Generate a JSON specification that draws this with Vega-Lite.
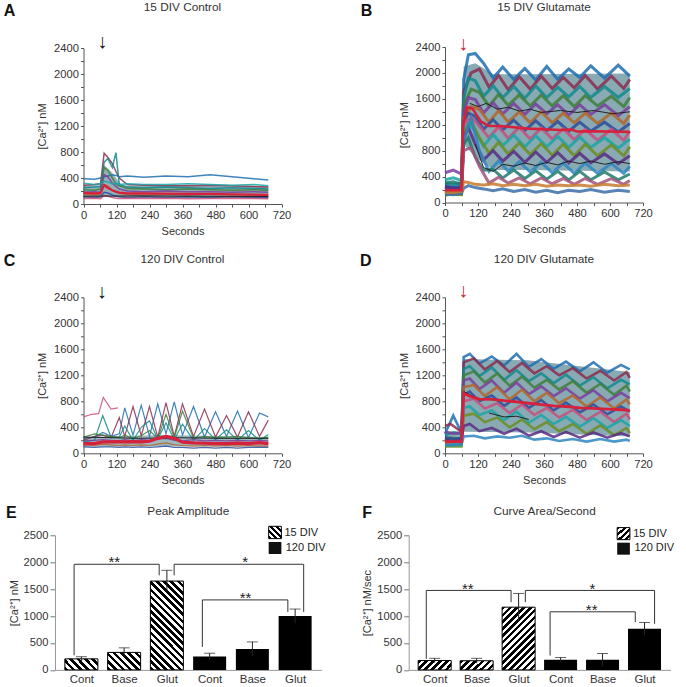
{"$schema":"https://vega.github.io/schema/vega-lite/v6.json","background":"white","padding":{"left":3,"top":2,"right":0,"bottom":0},"bounds":"flush","spacing":488.3,
"config":{"view":{"stroke":null},"range":{"category":["#1f6fb2","#8c2d4f","#0f8b8d","#3f7f3a","#7a3e9d","#b5652a","#2a4d9b","#c94f7c","#1aa6a6","#6b8e23","#5b2c83","#2e86c1","#1d7a6b","#a0527a","#3a6fa8","#c77a2e"]},"axis":{"grid":false,"labelFont":"Liberation Sans","titleFont":"Liberation Sans","labelFontSize":11.2,"titleFontSize":11,"titleFontWeight":"normal","labelColor":"#333","titleColor":"#333","tickColor":"#555","domainColor":"#555","tickSize":3,"labelPadding":2,"labelOverlap":false,"labelFlush":false},"title":{"font":"Liberation Sans","fontSize":11.8,"fontWeight":"normal","color":"#333"},"text":{"font":"Liberation Sans"}},
"datasets":{
"ab":[{"t":0,"v":100,"v2":290},{"t":60,"v":100,"v2":290},{"t":75,"v":110,"v2":600},{"t":100,"v":110,"v2":500},{"t":140,"v":100,"v2":285},{"t":400,"v":95,"v2":280},{"t":672,"v":90,"v2":270}],
"bb":[{"t":0,"v":120,"v2":300},{"t":60,"v":120,"v2":300},{"t":68,"v":900,"v2":2100},{"t":110,"v":700,"v2":2150},{"t":175,"v":500,"v2":1980},{"t":300,"v":500,"v2":1980},{"t":672,"v":480,"v2":1990}],
"cb":[{"t":0,"v":100,"v2":250},{"t":300,"v":110,"v2":280},{"t":672,"v":100,"v2":250}],
"db":[{"t":0,"v":110,"v2":340},{"t":60,"v":110,"v2":340},{"t":68,"v":330,"v2":1450},{"t":300,"v":320,"v2":1430},{"t":672,"v":260,"v2":1250}],
"a":[{"s":1,"t":0,"v":390},{"s":1,"t":40,"v":380},{"s":1,"t":62,"v":400},{"s":1,"t":75,"v":420},{"s":1,"t":88,"v":430},{"s":1,"t":105,"v":450},{"s":1,"t":118,"v":440},{"s":1,"t":130,"v":420},{"s":1,"t":160,"v":430},{"s":1,"t":220,"v":410},{"s":1,"t":300,"v":430},{"s":1,"t":380,"v":420},{"s":1,"t":460,"v":450},{"s":1,"t":540,"v":420},{"s":1,"t":620,"v":390},{"s":1,"t":672,"v":370},
{"s":2,"t":0,"v":290},{"s":2,"t":40,"v":300},{"s":2,"t":62,"v":310},{"s":2,"t":75,"v":780},{"s":2,"t":88,"v":720},{"s":2,"t":105,"v":620},{"s":2,"t":118,"v":500},{"s":2,"t":130,"v":400},{"s":2,"t":160,"v":300},{"s":2,"t":220,"v":290},{"s":2,"t":300,"v":280},{"s":2,"t":380,"v":280},{"s":2,"t":460,"v":290},{"s":2,"t":540,"v":280},{"s":2,"t":620,"v":270},{"s":2,"t":672,"v":260},
{"s":3,"t":0,"v":250},{"s":3,"t":40,"v":260},{"s":3,"t":62,"v":270},{"s":3,"t":75,"v":640},{"s":3,"t":88,"v":700},{"s":3,"t":105,"v":560},{"s":3,"t":118,"v":790},{"s":3,"t":130,"v":300},{"s":3,"t":160,"v":260},{"s":3,"t":220,"v":250},{"s":3,"t":300,"v":260},{"s":3,"t":380,"v":250},{"s":3,"t":460,"v":240},{"s":3,"t":540,"v":250},{"s":3,"t":620,"v":240},{"s":3,"t":672,"v":230},
{"s":4,"t":0,"v":220},{"s":4,"t":40,"v":210},{"s":4,"t":62,"v":230},{"s":4,"t":75,"v":560},{"s":4,"t":88,"v":520},{"s":4,"t":105,"v":400},{"s":4,"t":118,"v":310},{"s":4,"t":130,"v":280},{"s":4,"t":160,"v":240},{"s":4,"t":220,"v":230},{"s":4,"t":300,"v":220},{"s":4,"t":380,"v":230},{"s":4,"t":460,"v":220},{"s":4,"t":540,"v":210},{"s":4,"t":620,"v":220},{"s":4,"t":672,"v":210},
{"s":5,"t":0,"v":180},{"s":5,"t":40,"v":190},{"s":5,"t":62,"v":180},{"s":5,"t":75,"v":450},{"s":5,"t":88,"v":420},{"s":5,"t":105,"v":320},{"s":5,"t":118,"v":270},{"s":5,"t":130,"v":230},{"s":5,"t":160,"v":200},{"s":5,"t":220,"v":190},{"s":5,"t":300,"v":200},{"s":5,"t":380,"v":190},{"s":5,"t":460,"v":190},{"s":5,"t":540,"v":180},{"s":5,"t":620,"v":190},{"s":5,"t":672,"v":180},
{"s":6,"t":0,"v":150},{"s":6,"t":40,"v":140},{"s":6,"t":62,"v":150},{"s":6,"t":75,"v":300},{"s":6,"t":88,"v":280},{"s":6,"t":105,"v":210},{"s":6,"t":118,"v":180},{"s":6,"t":130,"v":160},{"s":6,"t":160,"v":150},{"s":6,"t":220,"v":140},{"s":6,"t":300,"v":150},{"s":6,"t":380,"v":140},{"s":6,"t":460,"v":150},{"s":6,"t":540,"v":140},{"s":6,"t":620,"v":140},{"s":6,"t":672,"v":130},
{"s":7,"t":0,"v":110},{"s":7,"t":40,"v":100},{"s":7,"t":62,"v":110},{"s":7,"t":75,"v":180},{"s":7,"t":88,"v":170},{"s":7,"t":105,"v":140},{"s":7,"t":118,"v":120},{"s":7,"t":130,"v":110},{"s":7,"t":160,"v":100},{"s":7,"t":220,"v":110},{"s":7,"t":300,"v":100},{"s":7,"t":380,"v":110},{"s":7,"t":460,"v":100},{"s":7,"t":540,"v":110},{"s":7,"t":620,"v":100},{"s":7,"t":672,"v":100},
{"s":8,"t":0,"v":85},{"s":8,"t":40,"v":90},{"s":8,"t":62,"v":80},{"s":8,"t":75,"v":130},{"s":8,"t":88,"v":120},{"s":8,"t":105,"v":100},{"s":8,"t":118,"v":90},{"s":8,"t":130,"v":85},{"s":8,"t":160,"v":90},{"s":8,"t":220,"v":85},{"s":8,"t":300,"v":90},{"s":8,"t":380,"v":80},{"s":8,"t":460,"v":85},{"s":8,"t":540,"v":90},{"s":8,"t":620,"v":85},{"s":8,"t":672,"v":80},
{"s":9,"t":0,"v":320},{"s":9,"t":40,"v":300},{"s":9,"t":62,"v":310},{"s":9,"t":75,"v":350},{"s":9,"t":88,"v":340},{"s":9,"t":105,"v":310},{"s":9,"t":118,"v":320},{"s":9,"t":130,"v":300},{"s":9,"t":160,"v":310},{"s":9,"t":220,"v":300},{"s":9,"t":300,"v":300},{"s":9,"t":380,"v":310},{"s":9,"t":460,"v":300},{"s":9,"t":540,"v":290},{"s":9,"t":620,"v":300},{"s":9,"t":672,"v":280},
{"s":98,"t":0,"v":120},{"s":98,"t":200,"v":125},{"s":98,"t":400,"v":120},{"s":98,"t":672,"v":115},
{"s":99,"t":0,"v":170},{"s":99,"t":40,"v":165},{"s":99,"t":62,"v":170},{"s":99,"t":75,"v":290},{"s":99,"t":88,"v":250},{"s":99,"t":105,"v":210},{"s":99,"t":118,"v":190},{"s":99,"t":130,"v":175},{"s":99,"t":160,"v":165},{"s":99,"t":220,"v":165},{"s":99,"t":300,"v":160},{"s":99,"t":380,"v":155},{"s":99,"t":460,"v":155},{"s":99,"t":540,"v":150},{"s":99,"t":620,"v":145},{"s":99,"t":672,"v":140}],
"b":[{"s":1,"t":0,"v":210},{"s":1,"t":30,"v":240},{"s":1,"t":60,"v":200},{"s":1,"t":68,"v":1900},{"s":1,"t":85,"v":2280},{"s":1,"t":110,"v":2300},{"s":1,"t":140,"v":2150},{"s":1,"t":175,"v":1920},{"s":1,"t":210,"v":2090},{"s":1,"t":250,"v":1900},{"s":1,"t":290,"v":2070},{"s":1,"t":330,"v":1890},{"s":1,"t":370,"v":2100},{"s":1,"t":410,"v":1900},{"s":1,"t":450,"v":2060},{"s":1,"t":490,"v":1930},{"s":1,"t":530,"v":2110},{"s":1,"t":580,"v":1920},{"s":1,"t":630,"v":2120},{"s":1,"t":672,"v":1950},
{"s":2,"t":0,"v":150},{"s":2,"t":25,"v":170},{"s":2,"t":60,"v":160},{"s":2,"t":68,"v":1700},{"s":2,"t":95,"v":2000},{"s":2,"t":125,"v":2060},{"s":2,"t":160,"v":1780},{"s":2,"t":195,"v":1960},{"s":2,"t":230,"v":1740},{"s":2,"t":270,"v":1940},{"s":2,"t":310,"v":1750},{"s":2,"t":350,"v":1950},{"s":2,"t":390,"v":1760},{"s":2,"t":430,"v":1930},{"s":2,"t":470,"v":1770},{"s":2,"t":510,"v":1960},{"s":2,"t":555,"v":1750},{"s":2,"t":605,"v":1950},{"s":2,"t":650,"v":1760},{"s":2,"t":672,"v":1900},
{"s":3,"t":0,"v":300},{"s":3,"t":30,"v":280},{"s":3,"t":60,"v":310},{"s":3,"t":68,"v":1600},{"s":3,"t":85,"v":1920},{"s":3,"t":110,"v":1880},{"s":3,"t":140,"v":1640},{"s":3,"t":175,"v":1800},{"s":3,"t":210,"v":1620},{"s":3,"t":250,"v":1790},{"s":3,"t":290,"v":1610},{"s":3,"t":330,"v":1800},{"s":3,"t":370,"v":1620},{"s":3,"t":410,"v":1780},{"s":3,"t":450,"v":1630},{"s":3,"t":490,"v":1790},{"s":3,"t":530,"v":1620},{"s":3,"t":580,"v":1790},{"s":3,"t":630,"v":1620},{"s":3,"t":672,"v":1760},
{"s":4,"t":0,"v":120},{"s":4,"t":25,"v":140},{"s":4,"t":60,"v":130},{"s":4,"t":68,"v":1500},{"s":4,"t":95,"v":1750},{"s":4,"t":125,"v":1700},{"s":4,"t":160,"v":1490},{"s":4,"t":195,"v":1670},{"s":4,"t":230,"v":1500},{"s":4,"t":270,"v":1660},{"s":4,"t":310,"v":1490},{"s":4,"t":350,"v":1660},{"s":4,"t":390,"v":1490},{"s":4,"t":430,"v":1650},{"s":4,"t":470,"v":1480},{"s":4,"t":510,"v":1650},{"s":4,"t":555,"v":1490},{"s":4,"t":605,"v":1640},{"s":4,"t":650,"v":1480},{"s":4,"t":672,"v":1620},
{"s":5,"t":0,"v":460},{"s":5,"t":30,"v":500},{"s":5,"t":60,"v":440},{"s":5,"t":68,"v":1400},{"s":5,"t":85,"v":1620},{"s":5,"t":110,"v":1590},{"s":5,"t":140,"v":1380},{"s":5,"t":175,"v":1540},{"s":5,"t":210,"v":1370},{"s":5,"t":250,"v":1530},{"s":5,"t":290,"v":1360},{"s":5,"t":330,"v":1520},{"s":5,"t":370,"v":1370},{"s":5,"t":410,"v":1510},{"s":5,"t":450,"v":1350},{"s":5,"t":490,"v":1510},{"s":5,"t":530,"v":1360},{"s":5,"t":580,"v":1510},{"s":5,"t":630,"v":1340},{"s":5,"t":672,"v":1480},
{"s":6,"t":0,"v":200},{"s":6,"t":25,"v":220},{"s":6,"t":60,"v":190},{"s":6,"t":68,"v":1300},{"s":6,"t":95,"v":1480},{"s":6,"t":125,"v":1440},{"s":6,"t":160,"v":1240},{"s":6,"t":195,"v":1420},{"s":6,"t":230,"v":1240},{"s":6,"t":270,"v":1400},{"s":6,"t":310,"v":1230},{"s":6,"t":350,"v":1400},{"s":6,"t":390,"v":1230},{"s":6,"t":430,"v":1380},{"s":6,"t":470,"v":1230},{"s":6,"t":510,"v":1380},{"s":6,"t":555,"v":1220},{"s":6,"t":605,"v":1380},{"s":6,"t":650,"v":1220},{"s":6,"t":672,"v":1350},
{"s":7,"t":0,"v":260},{"s":7,"t":30,"v":230},{"s":7,"t":60,"v":250},{"s":7,"t":68,"v":1250},{"s":7,"t":85,"v":1380},{"s":7,"t":110,"v":1330},{"s":7,"t":140,"v":1130},{"s":7,"t":175,"v":1280},{"s":7,"t":210,"v":1120},{"s":7,"t":250,"v":1270},{"s":7,"t":290,"v":1110},{"s":7,"t":330,"v":1260},{"s":7,"t":370,"v":1110},{"s":7,"t":410,"v":1250},{"s":7,"t":450,"v":1100},{"s":7,"t":490,"v":1240},{"s":7,"t":530,"v":1100},{"s":7,"t":580,"v":1240},{"s":7,"t":630,"v":1090},{"s":7,"t":672,"v":1220},
{"s":8,"t":0,"v":180},{"s":8,"t":25,"v":160},{"s":8,"t":60,"v":190},{"s":8,"t":68,"v":1200},{"s":8,"t":95,"v":1320},{"s":8,"t":125,"v":1180},{"s":8,"t":160,"v":1000},{"s":8,"t":195,"v":1170},{"s":8,"t":230,"v":990},{"s":8,"t":270,"v":1160},{"s":8,"t":310,"v":980},{"s":8,"t":350,"v":1150},{"s":8,"t":390,"v":980},{"s":8,"t":430,"v":1140},{"s":8,"t":470,"v":970},{"s":8,"t":510,"v":1130},{"s":8,"t":555,"v":960},{"s":8,"t":605,"v":1130},{"s":8,"t":650,"v":960},{"s":8,"t":672,"v":1100},
{"s":9,"t":0,"v":350},{"s":9,"t":30,"v":380},{"s":9,"t":60,"v":340},{"s":9,"t":68,"v":1100},{"s":9,"t":85,"v":1220},{"s":9,"t":110,"v":1100},{"s":9,"t":140,"v":870},{"s":9,"t":175,"v":1050},{"s":9,"t":210,"v":880},{"s":9,"t":250,"v":1040},{"s":9,"t":290,"v":860},{"s":9,"t":330,"v":1030},{"s":9,"t":370,"v":860},{"s":9,"t":410,"v":1020},{"s":9,"t":450,"v":850},{"s":9,"t":490,"v":1010},{"s":9,"t":530,"v":850},{"s":9,"t":580,"v":1000},{"s":9,"t":630,"v":840},{"s":9,"t":672,"v":980},
{"s":10,"t":0,"v":110},{"s":10,"t":25,"v":130},{"s":10,"t":60,"v":120},{"s":10,"t":68,"v":1050},{"s":10,"t":95,"v":1250},{"s":10,"t":125,"v":1000},{"s":10,"t":160,"v":760},{"s":10,"t":195,"v":930},{"s":10,"t":230,"v":750},{"s":10,"t":270,"v":920},{"s":10,"t":310,"v":740},{"s":10,"t":350,"v":910},{"s":10,"t":390,"v":730},{"s":10,"t":430,"v":900},{"s":10,"t":470,"v":720},{"s":10,"t":510,"v":900},{"s":10,"t":555,"v":720},{"s":10,"t":605,"v":890},{"s":10,"t":650,"v":720},{"s":10,"t":672,"v":860},
{"s":11,"t":0,"v":240},{"s":11,"t":30,"v":210},{"s":11,"t":60,"v":230},{"s":11,"t":68,"v":1000},{"s":11,"t":85,"v":1150},{"s":11,"t":110,"v":900},{"s":11,"t":140,"v":660},{"s":11,"t":175,"v":800},{"s":11,"t":210,"v":640},{"s":11,"t":250,"v":790},{"s":11,"t":290,"v":620},{"s":11,"t":330,"v":780},{"s":11,"t":370,"v":620},{"s":11,"t":410,"v":770},{"s":11,"t":450,"v":610},{"s":11,"t":490,"v":760},{"s":11,"t":530,"v":610},{"s":11,"t":580,"v":750},{"s":11,"t":630,"v":600},{"s":11,"t":672,"v":720},
{"s":12,"t":0,"v":140},{"s":12,"t":25,"v":160},{"s":12,"t":60,"v":150},{"s":12,"t":68,"v":950},{"s":12,"t":95,"v":1300},{"s":12,"t":125,"v":800},{"s":12,"t":160,"v":480},{"s":12,"t":195,"v":640},{"s":12,"t":230,"v":480},{"s":12,"t":270,"v":630},{"s":12,"t":310,"v":470},{"s":12,"t":350,"v":620},{"s":12,"t":390,"v":460},{"s":12,"t":430,"v":610},{"s":12,"t":470,"v":450},{"s":12,"t":510,"v":610},{"s":12,"t":555,"v":450},{"s":12,"t":605,"v":600},{"s":12,"t":650,"v":450},{"s":12,"t":672,"v":560},
{"s":13,"t":0,"v":300},{"s":13,"t":30,"v":320},{"s":13,"t":60,"v":280},{"s":13,"t":68,"v":900},{"s":13,"t":85,"v":1000},{"s":13,"t":110,"v":700},{"s":13,"t":140,"v":500},{"s":13,"t":175,"v":510},{"s":13,"t":210,"v":380},{"s":13,"t":250,"v":500},{"s":13,"t":290,"v":370},{"s":13,"t":330,"v":490},{"s":13,"t":370,"v":360},{"s":13,"t":410,"v":480},{"s":13,"t":450,"v":350},{"s":13,"t":490,"v":480},{"s":13,"t":530,"v":350},{"s":13,"t":580,"v":470},{"s":13,"t":630,"v":350},{"s":13,"t":672,"v":440},
{"s":14,"t":0,"v":170},{"s":14,"t":25,"v":190},{"s":14,"t":60,"v":180},{"s":14,"t":68,"v":800},{"s":14,"t":95,"v":850},{"s":14,"t":125,"v":560},{"s":14,"t":160,"v":300},{"s":14,"t":195,"v":390},{"s":14,"t":230,"v":300},{"s":14,"t":270,"v":380},{"s":14,"t":310,"v":290},{"s":14,"t":350,"v":380},{"s":14,"t":390,"v":290},{"s":14,"t":430,"v":370},{"s":14,"t":470,"v":280},{"s":14,"t":510,"v":370},{"s":14,"t":555,"v":280},{"s":14,"t":605,"v":370},{"s":14,"t":650,"v":280},{"s":14,"t":672,"v":340},
{"s":15,"t":0,"v":130},{"s":15,"t":30,"v":120},{"s":15,"t":60,"v":140},{"s":15,"t":68,"v":220},{"s":15,"t":85,"v":260},{"s":15,"t":110,"v":230},{"s":15,"t":140,"v":210},{"s":15,"t":175,"v":180},{"s":15,"t":210,"v":210},{"s":15,"t":250,"v":170},{"s":15,"t":290,"v":200},{"s":15,"t":330,"v":160},{"s":15,"t":370,"v":190},{"s":15,"t":410,"v":150},{"s":15,"t":450,"v":190},{"s":15,"t":490,"v":170},{"s":15,"t":530,"v":200},{"s":15,"t":580,"v":160},{"s":15,"t":630,"v":190},{"s":15,"t":672,"v":170},
{"s":16,"t":0,"v":160},{"s":16,"t":30,"v":150},{"s":16,"t":60,"v":170},{"s":16,"t":68,"v":320},{"s":16,"t":85,"v":310},{"s":16,"t":110,"v":280},{"s":16,"t":140,"v":270},{"s":16,"t":175,"v":290},{"s":16,"t":210,"v":260},{"s":16,"t":250,"v":280},{"s":16,"t":290,"v":260},{"s":16,"t":330,"v":280},{"s":16,"t":370,"v":250},{"s":16,"t":410,"v":270},{"s":16,"t":450,"v":260},{"s":16,"t":490,"v":270},{"s":16,"t":530,"v":250},{"s":16,"t":580,"v":280},{"s":16,"t":630,"v":260},{"s":16,"t":672,"v":270},
{"s":97,"t":90,"v":1530},{"s":97,"t":120,"v":1480},{"s":97,"t":150,"v":1530},{"s":97,"t":190,"v":1440},{"s":97,"t":230,"v":1470},{"s":97,"t":270,"v":1410},{"s":97,"t":310,"v":1440},{"s":97,"t":350,"v":1390},{"s":97,"t":420,"v":1420},{"s":97,"t":480,"v":1390},{"s":97,"t":540,"v":1420},{"s":97,"t":610,"v":1370},{"s":97,"t":672,"v":1400},
{"s":98,"t":110,"v":900},{"s":98,"t":140,"v":540},{"s":98,"t":175,"v":480},{"s":98,"t":210,"v":590},{"s":98,"t":250,"v":560},{"s":98,"t":290,"v":610},{"s":98,"t":330,"v":570},{"s":98,"t":370,"v":620},{"s":98,"t":410,"v":580},{"s":98,"t":450,"v":640},{"s":98,"t":490,"v":600},{"s":98,"t":530,"v":640},{"s":98,"t":580,"v":590},{"s":98,"t":630,"v":630},{"s":98,"t":672,"v":600},
{"s":99,"t":0,"v":190},{"s":99,"t":60,"v":190},{"s":99,"t":66,"v":1200},{"s":99,"t":80,"v":1470},{"s":99,"t":100,"v":1450},{"s":99,"t":130,"v":1250},{"s":99,"t":160,"v":1180},{"s":99,"t":200,"v":1180},{"s":99,"t":240,"v":1165},{"s":99,"t":300,"v":1140},{"s":99,"t":360,"v":1130},{"s":99,"t":420,"v":1120},{"s":99,"t":460,"v":1125},{"s":99,"t":480,"v":1095},{"s":99,"t":540,"v":1100},{"s":99,"t":600,"v":1095},{"s":99,"t":672,"v":1090}],
"c":[{"s":1,"t":0,"v":230},{"s":1,"t":40,"v":250},{"s":1,"t":70,"v":320},{"s":1,"t":100,"v":260},{"s":1,"t":130,"v":300},{"s":1,"t":150,"v":700},{"s":1,"t":180,"v":280},{"s":1,"t":210,"v":740},{"s":1,"t":240,"v":260},{"s":1,"t":270,"v":760},{"s":1,"t":300,"v":300},{"s":1,"t":330,"v":790},{"s":1,"t":360,"v":280},{"s":1,"t":400,"v":720},{"s":1,"t":440,"v":250},{"s":1,"t":480,"v":640},{"s":1,"t":520,"v":260},{"s":1,"t":560,"v":650},{"s":1,"t":600,"v":240},{"s":1,"t":640,"v":620},{"s":1,"t":672,"v":560},
{"s":2,"t":0,"v":200},{"s":2,"t":40,"v":260},{"s":2,"t":70,"v":280},{"s":2,"t":100,"v":240},{"s":2,"t":130,"v":550},{"s":2,"t":150,"v":260},{"s":2,"t":180,"v":720},{"s":2,"t":210,"v":270},{"s":2,"t":240,"v":720},{"s":2,"t":270,"v":250},{"s":2,"t":300,"v":780},{"s":2,"t":330,"v":260},{"s":2,"t":360,"v":760},{"s":2,"t":400,"v":260},{"s":2,"t":440,"v":680},{"s":2,"t":480,"v":250},{"s":2,"t":520,"v":580},{"s":2,"t":560,"v":250},{"s":2,"t":600,"v":640},{"s":2,"t":640,"v":260},{"s":2,"t":672,"v":510},
{"s":3,"t":0,"v":180},{"s":3,"t":40,"v":200},{"s":3,"t":70,"v":580},{"s":3,"t":100,"v":250},{"s":3,"t":130,"v":250},{"s":3,"t":150,"v":420},{"s":3,"t":180,"v":200},{"s":3,"t":210,"v":400},{"s":3,"t":240,"v":500},{"s":3,"t":270,"v":220},{"s":3,"t":300,"v":470},{"s":3,"t":330,"v":210},{"s":3,"t":360,"v":450},{"s":3,"t":400,"v":200},{"s":3,"t":440,"v":380},{"s":3,"t":480,"v":210},{"s":3,"t":520,"v":360},{"s":3,"t":560,"v":200},{"s":3,"t":600,"v":350},{"s":3,"t":640,"v":200},{"s":3,"t":672,"v":290},
{"s":4,"t":0,"v":250},{"s":4,"t":40,"v":300},{"s":4,"t":70,"v":280},{"s":4,"t":100,"v":260},{"s":4,"t":130,"v":240},{"s":4,"t":150,"v":280},{"s":4,"t":180,"v":230},{"s":4,"t":210,"v":270},{"s":4,"t":240,"v":350},{"s":4,"t":270,"v":230},{"s":4,"t":300,"v":600},{"s":4,"t":330,"v":240},{"s":4,"t":360,"v":650},{"s":4,"t":400,"v":230},{"s":4,"t":440,"v":260},{"s":4,"t":480,"v":240},{"s":4,"t":520,"v":250},{"s":4,"t":560,"v":260},{"s":4,"t":600,"v":240},{"s":4,"t":640,"v":230},{"s":4,"t":672,"v":250},
{"s":5,"t":0,"v":190},{"s":5,"t":40,"v":200},{"s":5,"t":70,"v":210},{"s":5,"t":100,"v":200},{"s":5,"t":130,"v":190},{"s":5,"t":150,"v":210},{"s":5,"t":180,"v":190},{"s":5,"t":210,"v":210},{"s":5,"t":240,"v":200},{"s":5,"t":270,"v":220},{"s":5,"t":300,"v":230},{"s":5,"t":330,"v":200},{"s":5,"t":360,"v":190},{"s":5,"t":400,"v":210},{"s":5,"t":440,"v":190},{"s":5,"t":480,"v":200},{"s":5,"t":520,"v":190},{"s":5,"t":560,"v":200},{"s":5,"t":600,"v":190},{"s":5,"t":640,"v":200},{"s":5,"t":672,"v":190},
{"s":6,"t":0,"v":130},{"s":6,"t":40,"v":120},{"s":6,"t":70,"v":140},{"s":6,"t":100,"v":130},{"s":6,"t":130,"v":120},{"s":6,"t":150,"v":130},{"s":6,"t":180,"v":120},{"s":6,"t":210,"v":130},{"s":6,"t":240,"v":120},{"s":6,"t":270,"v":140},{"s":6,"t":300,"v":160},{"s":6,"t":330,"v":130},{"s":6,"t":360,"v":120},{"s":6,"t":400,"v":110},{"s":6,"t":440,"v":120},{"s":6,"t":480,"v":110},{"s":6,"t":520,"v":120},{"s":6,"t":560,"v":110},{"s":6,"t":600,"v":120},{"s":6,"t":640,"v":110},{"s":6,"t":672,"v":110},
{"s":7,"t":0,"v":100},{"s":7,"t":40,"v":90},{"s":7,"t":70,"v":100},{"s":7,"t":100,"v":100},{"s":7,"t":130,"v":90},{"s":7,"t":150,"v":100},{"s":7,"t":180,"v":90},{"s":7,"t":210,"v":100},{"s":7,"t":240,"v":90},{"s":7,"t":270,"v":100},{"s":7,"t":300,"v":110},{"s":7,"t":330,"v":90},{"s":7,"t":360,"v":90},{"s":7,"t":400,"v":80},{"s":7,"t":440,"v":90},{"s":7,"t":480,"v":80},{"s":7,"t":520,"v":90},{"s":7,"t":560,"v":80},{"s":7,"t":600,"v":90},{"s":7,"t":640,"v":90},{"s":7,"t":672,"v":90},
{"s":8,"t":0,"v":560},{"s":8,"t":30,"v":600},{"s":8,"t":55,"v":610},{"s":8,"t":72,"v":860},{"s":8,"t":100,"v":680},{"s":8,"t":125,"v":700},
{"s":98,"t":0,"v":250},{"s":98,"t":100,"v":240},{"s":98,"t":200,"v":230},{"s":98,"t":350,"v":240},{"s":98,"t":500,"v":230},{"s":98,"t":672,"v":230},
{"s":99,"t":0,"v":150},{"s":99,"t":40,"v":150},{"s":99,"t":70,"v":175},{"s":99,"t":100,"v":175},{"s":99,"t":130,"v":180},{"s":99,"t":150,"v":175},{"s":99,"t":180,"v":180},{"s":99,"t":210,"v":175},{"s":99,"t":240,"v":185},{"s":99,"t":270,"v":230},{"s":99,"t":300,"v":260},{"s":99,"t":330,"v":230},{"s":99,"t":360,"v":170},{"s":99,"t":400,"v":160},{"s":99,"t":440,"v":155},{"s":99,"t":480,"v":150},{"s":99,"t":520,"v":150},{"s":99,"t":560,"v":155},{"s":99,"t":600,"v":150},{"s":99,"t":640,"v":165},{"s":99,"t":672,"v":150}],
"d":[{"s":1,"t":0,"v":300},{"s":1,"t":30,"v":580},{"s":1,"t":60,"v":320},{"s":1,"t":68,"v":1480},{"s":1,"t":90,"v":1530},{"s":1,"t":125,"v":1380},{"s":1,"t":170,"v":1490},{"s":1,"t":215,"v":1350},{"s":1,"t":260,"v":1530},{"s":1,"t":305,"v":1330},{"s":1,"t":350,"v":1450},{"s":1,"t":395,"v":1300},{"s":1,"t":440,"v":1410},{"s":1,"t":490,"v":1260},{"s":1,"t":540,"v":1400},{"s":1,"t":590,"v":1240},{"s":1,"t":640,"v":1360},{"s":1,"t":672,"v":1290},
{"s":2,"t":0,"v":420},{"s":2,"t":20,"v":450},{"s":2,"t":60,"v":330},{"s":2,"t":68,"v":1400},{"s":2,"t":105,"v":1460},{"s":2,"t":145,"v":1290},{"s":2,"t":190,"v":1420},{"s":2,"t":235,"v":1250},{"s":2,"t":280,"v":1390},{"s":2,"t":325,"v":1230},{"s":2,"t":370,"v":1340},{"s":2,"t":415,"v":1200},{"s":2,"t":465,"v":1310},{"s":2,"t":515,"v":1150},{"s":2,"t":565,"v":1270},{"s":2,"t":615,"v":1120},{"s":2,"t":660,"v":1250},{"s":2,"t":672,"v":1160},
{"s":3,"t":0,"v":280},{"s":3,"t":30,"v":320},{"s":3,"t":60,"v":300},{"s":3,"t":68,"v":1300},{"s":3,"t":90,"v":1340},{"s":3,"t":125,"v":1190},{"s":3,"t":170,"v":1320},{"s":3,"t":215,"v":1130},{"s":3,"t":260,"v":1280},{"s":3,"t":305,"v":1110},{"s":3,"t":350,"v":1230},{"s":3,"t":395,"v":1080},{"s":3,"t":440,"v":1210},{"s":3,"t":490,"v":1040},{"s":3,"t":540,"v":1170},{"s":3,"t":590,"v":1000},{"s":3,"t":640,"v":1130},{"s":3,"t":672,"v":1060},
{"s":4,"t":0,"v":200},{"s":4,"t":20,"v":240},{"s":4,"t":60,"v":220},{"s":4,"t":68,"v":1200},{"s":4,"t":105,"v":1260},{"s":4,"t":145,"v":1090},{"s":4,"t":190,"v":1230},{"s":4,"t":235,"v":1040},{"s":4,"t":280,"v":1180},{"s":4,"t":325,"v":1010},{"s":4,"t":370,"v":1130},{"s":4,"t":415,"v":980},{"s":4,"t":465,"v":1110},{"s":4,"t":515,"v":930},{"s":4,"t":565,"v":1070},{"s":4,"t":615,"v":900},{"s":4,"t":660,"v":1040},{"s":4,"t":672,"v":950},
{"s":5,"t":0,"v":330},{"s":5,"t":30,"v":300},{"s":5,"t":60,"v":310},{"s":5,"t":68,"v":1120},{"s":5,"t":90,"v":1150},{"s":5,"t":125,"v":990},{"s":5,"t":170,"v":1120},{"s":5,"t":215,"v":930},{"s":5,"t":260,"v":1090},{"s":5,"t":305,"v":910},{"s":5,"t":350,"v":1030},{"s":5,"t":395,"v":880},{"s":5,"t":440,"v":1000},{"s":5,"t":490,"v":840},{"s":5,"t":540,"v":970},{"s":5,"t":590,"v":800},{"s":5,"t":640,"v":930},{"s":5,"t":672,"v":850},
{"s":6,"t":0,"v":150},{"s":6,"t":20,"v":170},{"s":6,"t":60,"v":160},{"s":6,"t":68,"v":1020},{"s":6,"t":105,"v":1050},{"s":6,"t":145,"v":880},{"s":6,"t":190,"v":1020},{"s":6,"t":235,"v":830},{"s":6,"t":280,"v":980},{"s":6,"t":325,"v":800},{"s":6,"t":370,"v":930},{"s":6,"t":415,"v":770},{"s":6,"t":465,"v":890},{"s":6,"t":515,"v":720},{"s":6,"t":565,"v":860},{"s":6,"t":615,"v":690},{"s":6,"t":660,"v":830},{"s":6,"t":672,"v":750},
{"s":7,"t":0,"v":250},{"s":7,"t":30,"v":220},{"s":7,"t":60,"v":240},{"s":7,"t":68,"v":900},{"s":7,"t":90,"v":950},{"s":7,"t":125,"v":800},{"s":7,"t":170,"v":890},{"s":7,"t":215,"v":730},{"s":7,"t":260,"v":860},{"s":7,"t":305,"v":700},{"s":7,"t":350,"v":820},{"s":7,"t":395,"v":660},{"s":7,"t":440,"v":780},{"s":7,"t":490,"v":630},{"s":7,"t":540,"v":750},{"s":7,"t":590,"v":600},{"s":7,"t":640,"v":720},{"s":7,"t":672,"v":640},
{"s":8,"t":0,"v":180},{"s":8,"t":20,"v":160},{"s":8,"t":60,"v":170},{"s":8,"t":68,"v":800},{"s":8,"t":105,"v":840},{"s":8,"t":145,"v":690},{"s":8,"t":190,"v":770},{"s":8,"t":235,"v":620},{"s":8,"t":280,"v":750},{"s":8,"t":325,"v":590},{"s":8,"t":370,"v":700},{"s":8,"t":415,"v":550},{"s":8,"t":465,"v":670},{"s":8,"t":515,"v":510},{"s":8,"t":565,"v":640},{"s":8,"t":615,"v":480},{"s":8,"t":660,"v":610},{"s":8,"t":672,"v":520},
{"s":9,"t":0,"v":120},{"s":9,"t":30,"v":140},{"s":9,"t":60,"v":130},{"s":9,"t":68,"v":700},{"s":9,"t":90,"v":720},{"s":9,"t":125,"v":590},{"s":9,"t":170,"v":660},{"s":9,"t":215,"v":510},{"s":9,"t":260,"v":640},{"s":9,"t":305,"v":470},{"s":9,"t":350,"v":590},{"s":9,"t":395,"v":450},{"s":9,"t":440,"v":560},{"s":9,"t":490,"v":410},{"s":9,"t":540,"v":540},{"s":9,"t":590,"v":390},{"s":9,"t":640,"v":510},{"s":9,"t":672,"v":420},
{"s":10,"t":0,"v":100},{"s":10,"t":20,"v":110},{"s":10,"t":60,"v":105},{"s":10,"t":68,"v":580},{"s":10,"t":105,"v":610},{"s":10,"t":145,"v":480},{"s":10,"t":190,"v":550},{"s":10,"t":235,"v":400},{"s":10,"t":280,"v":520},{"s":10,"t":325,"v":370},{"s":10,"t":370,"v":480},{"s":10,"t":415,"v":340},{"s":10,"t":465,"v":450},{"s":10,"t":515,"v":300},{"s":10,"t":565,"v":430},{"s":10,"t":615,"v":280},{"s":10,"t":660,"v":390},{"s":10,"t":672,"v":310},
{"s":11,"t":0,"v":210},{"s":11,"t":30,"v":190},{"s":11,"t":60,"v":200},{"s":11,"t":68,"v":420},{"s":11,"t":90,"v":450},{"s":11,"t":125,"v":340},{"s":11,"t":170,"v":390},{"s":11,"t":215,"v":300},{"s":11,"t":260,"v":380},{"s":11,"t":305,"v":270},{"s":11,"t":350,"v":340},{"s":11,"t":395,"v":250},{"s":11,"t":440,"v":330},{"s":11,"t":490,"v":240},{"s":11,"t":540,"v":320},{"s":11,"t":590,"v":240},{"s":11,"t":640,"v":310},{"s":11,"t":672,"v":260},
{"s":12,"t":0,"v":130},{"s":12,"t":20,"v":120},{"s":12,"t":60,"v":130},{"s":12,"t":68,"v":260},{"s":12,"t":105,"v":270},{"s":12,"t":145,"v":230},{"s":12,"t":190,"v":260},{"s":12,"t":235,"v":240},{"s":12,"t":280,"v":270},{"s":12,"t":325,"v":210},{"s":12,"t":370,"v":230},{"s":12,"t":415,"v":190},{"s":12,"t":465,"v":220},{"s":12,"t":515,"v":180},{"s":12,"t":565,"v":220},{"s":12,"t":615,"v":180},{"s":12,"t":660,"v":210},{"s":12,"t":672,"v":190},
{"s":97,"t":160,"v":620},{"s":97,"t":215,"v":560},{"s":97,"t":260,"v":570},{"s":97,"t":305,"v":520},
{"s":98,"t":68,"v":950},{"s":98,"t":100,"v":880},{"s":98,"t":130,"v":830},{"s":98,"t":170,"v":840},{"s":98,"t":215,"v":810},{"s":98,"t":260,"v":800},
{"s":99,"t":0,"v":185},{"s":99,"t":30,"v":180},{"s":99,"t":60,"v":180},{"s":99,"t":68,"v":920},{"s":99,"t":90,"v":880},{"s":99,"t":125,"v":835},{"s":99,"t":170,"v":830},{"s":99,"t":215,"v":810},{"s":99,"t":260,"v":790},{"s":99,"t":305,"v":770},{"s":99,"t":350,"v":750},{"s":99,"t":395,"v":730},{"s":99,"t":440,"v":720},{"s":99,"t":490,"v":700},{"s":99,"t":540,"v":690},{"s":99,"t":590,"v":680},{"s":99,"t":640,"v":670},{"s":99,"t":672,"v":660}],
"e":[{"pos":1,"h":"c","v":205,"lo":165,"hi":245},{"pos":2,"h":"b","v":325,"lo":240,"hi":410},{"pos":3,"h":"g","v":1650,"lo":1450,"hi":1850},{"pos":4,"h":"k","v":250,"lo":190,"hi":310},{"pos":5,"h":"k","v":390,"lo":260,"hi":520},{"pos":6,"h":"k","v":1000,"lo":870,"hi":1130}],
"f":[{"pos":1,"h":"c","v":175,"lo":135,"hi":215},{"pos":2,"h":"c","v":170,"lo":125,"hi":215},{"pos":3,"h":"g","v":1165,"lo":900,"hi":1420},{"pos":4,"h":"k","v":190,"lo":150,"hi":230},{"pos":5,"h":"k","v":190,"lo":75,"hi":305},{"pos":6,"h":"k","v":765,"lo":650,"hi":880}],
"el":[{"pos":0.83,"v":272,"b":1,"i":1},{"pos":0.83,"v":1962,"b":1,"i":2},{"pos":2.82,"v":1962,"b":1,"i":3},{"pos":2.82,"v":1757,"b":1,"i":4},{"pos":3.17,"v":1757,"b":2,"i":1},{"pos":3.17,"v":1962,"b":2,"i":2},{"pos":6.2,"v":1962,"b":2,"i":3},{"pos":6.2,"v":1077,"b":2,"i":4},{"pos":3.83,"v":427,"b":3,"i":1},{"pos":3.83,"v":1300,"b":3,"i":2},{"pos":5.83,"v":1300,"b":3,"i":3},{"pos":5.83,"v":1077,"b":3,"i":4}],
"fl":[{"pos":0.8,"v":205,"b":1,"i":1},{"pos":0.8,"v":1476,"b":1,"i":2},{"pos":2.82,"v":1476,"b":1,"i":3},{"pos":2.82,"v":1259,"b":1,"i":4},{"pos":3.16,"v":1259,"b":2,"i":1},{"pos":3.16,"v":1476,"b":2,"i":2},{"pos":6.24,"v":1476,"b":2,"i":3},{"pos":6.24,"v":856,"b":2,"i":4},{"pos":3.75,"v":267,"b":3,"i":1},{"pos":3.75,"v":1079,"b":3,"i":2},{"pos":5.78,"v":1079,"b":3,"i":3},{"pos":5.78,"v":887,"b":3,"i":4}]
},
"vconcat":[
{"spacing":250.3,"bounds":"flush","vconcat":[
{"hconcat":[
{"width":226.5,"height":157,"title":{"text":"15 DIV Control","dx":14.25,"offset":-11},"encoding":{"x":{"field":"t","type":"quantitative","title":"Seconds","scale":{"domain":[0,720],"range":[28.5,226.5]},"axis":{"values":[0,60,120,180,240,300,360,420,480,540,600,660,720],"labelExpr":"datum.value%120==0?datum.label:''","titlePadding":5}},"y":{"field":"v","type":"quantitative","title":"[Ca²⁺] nM","scale":{"domain":[0,2400],"range":[157,1]},"axis":{"offset":-28.5,"format":"d","values":[0,200,400,600,800,1000,1200,1400,1600,1800,2000,2200,2400],"labelExpr":"datum.value%400==0?datum.label:''","titlePadding":6}}},
"layer":[{"data":{"name":"ab"},"mark":{"type":"area","color":"#3b6f80","opacity":0.55},"encoding":{"y2":{"field":"v2"}}},
{"data":{"name":"a"},"transform":[{"filter":"datum.s<90"}],"mark":{"type":"line","strokeWidth":1.5,"opacity":0.85},"encoding":{"color":{"field":"s","type":"nominal","legend":null}}},
{"data":{"name":"a"},"transform":[{"filter":"datum.s==98"}],"mark":{"type":"line","strokeWidth":1,"color":"#222"}},
{"data":{"name":"a"},"transform":[{"filter":"datum.s==99"}],"mark":{"type":"line","strokeWidth":2.2,"color":"#d6213c"}},
{"data":{"values":[{"t":-269,"v":2969,"lab":"A"}]},"mark":{"type":"text","fontWeight":"bold","fontSize":16,"color":"#111"},"encoding":{"text":{"field":"lab"}}},
{"data":{"values":[{"t":68,"v":2488,"lab":"↓"}]},"mark":{"type":"text","fontSize":20,"color":"#111"},"encoding":{"text":{"field":"lab"}}}]},
{"width":198,"height":155.5,"title":{"text":"15 DIV Glutamate","offset":-11},"encoding":{"x":{"field":"t","type":"quantitative","title":"Seconds","scale":{"domain":[0,720]},"axis":{"values":[0,60,120,180,240,300,360,420,480,540,600,660,720],"labelExpr":"datum.value%120==0?datum.label:''","titlePadding":5}},"y":{"field":"v","type":"quantitative","title":"[Ca²⁺] nM","scale":{"domain":[0,2400]},"axis":{"format":"d","values":[0,200,400,600,800,1000,1200,1400,1600,1800,2000,2200,2400],"labelExpr":"datum.value%400==0?datum.label:''","titlePadding":6}}},
"layer":[{"data":{"name":"bb"},"mark":{"type":"area","color":"#3b6f80","opacity":0.6},"encoding":{"y2":{"field":"v2"}}},
{"data":{"name":"b"},"transform":[{"filter":"datum.s<90"}],"mark":{"type":"line","strokeWidth":3,"opacity":0.85},"encoding":{"color":{"field":"s","type":"nominal","legend":null}}},
{"data":{"name":"b"},"transform":[{"filter":"datum.s==97||datum.s==98"}],"mark":{"type":"line","strokeWidth":1,"color":"#222"},"encoding":{"detail":{"field":"s"}}},
{"data":{"name":"b"},"transform":[{"filter":"datum.s==99"}],"mark":{"type":"line","strokeWidth":2.6,"color":"#d6213c"}},
{"data":{"values":[{"t":-285,"v":2951,"lab":"B"}]},"mark":{"type":"text","fontWeight":"bold","fontSize":16,"color":"#111"},"encoding":{"text":{"field":"lab"}}},
{"data":{"values":[{"t":66.5,"v":2446,"lab":"↓"}]},"mark":{"type":"text","fontSize":20,"color":"#d6213c"},"encoding":{"text":{"field":"lab"}}}]}
],"spacing":163,"bounds":"flush"},
{"hconcat":[
{"width":226.5,"height":156,"title":{"text":"120 DIV Control","dx":14.25,"offset":-13},"encoding":{"x":{"field":"t","type":"quantitative","title":"Seconds","scale":{"domain":[0,720],"range":[28.5,226.5]},"axis":{"values":[0,60,120,180,240,300,360,420,480,540,600,660,720],"labelExpr":"datum.value%120==0?datum.label:''","titlePadding":5}},"y":{"field":"v","type":"quantitative","title":"[Ca²⁺] nM","scale":{"domain":[0,2400]},"axis":{"offset":-28.5,"format":"d","values":[0,200,400,600,800,1000,1200,1400,1600,1800,2000,2200,2400],"labelExpr":"datum.value%400==0?datum.label:''","titlePadding":6}}},
"layer":[{"data":{"name":"cb"},"mark":{"type":"area","color":"#3b6f80","opacity":0.5},"encoding":{"y2":{"field":"v2"}}},
{"data":{"name":"c"},"transform":[{"filter":"datum.s<90"}],"mark":{"type":"line","strokeWidth":1.2,"opacity":0.85},"encoding":{"color":{"field":"s","type":"nominal","legend":null}}},
{"data":{"name":"c"},"transform":[{"filter":"datum.s==98"}],"mark":{"type":"line","strokeWidth":1,"color":"#222"}},
{"data":{"name":"c"},"transform":[{"filter":"datum.s==99"}],"mark":{"type":"line","strokeWidth":3.2,"color":"#d6213c"}},
{"data":{"values":[{"t":-269,"v":2954,"lab":"C"}]},"mark":{"type":"text","fontWeight":"bold","fontSize":16,"color":"#111"},"encoding":{"text":{"field":"lab"}}},
{"data":{"values":[{"t":66.5,"v":2482,"lab":"↓"}]},"mark":{"type":"text","fontSize":20,"color":"#111"},"encoding":{"text":{"field":"lab"}}}]},
{"width":198,"height":156,"title":{"text":"120 DIV Glutamate","offset":-13},"encoding":{"x":{"field":"t","type":"quantitative","title":"Seconds","scale":{"domain":[0,720]},"axis":{"values":[0,60,120,180,240,300,360,420,480,540,600,660,720],"labelExpr":"datum.value%120==0?datum.label:''","titlePadding":5}},"y":{"field":"v","type":"quantitative","title":"[Ca²⁺] nM","scale":{"domain":[0,2400]},"axis":{"format":"d","values":[0,200,400,600,800,1000,1200,1400,1600,1800,2000,2200,2400],"labelExpr":"datum.value%400==0?datum.label:''","titlePadding":6}}},
"layer":[{"data":{"name":"db"},"mark":{"type":"area","color":"#3b6f80","opacity":0.6},"encoding":{"y2":{"field":"v2"}}},
{"data":{"name":"d"},"transform":[{"filter":"datum.s<90"}],"mark":{"type":"line","strokeWidth":2.6,"opacity":0.85},"encoding":{"color":{"field":"s","type":"nominal","legend":null}}},
{"data":{"name":"d"},"transform":[{"filter":"datum.s==97||datum.s==98"}],"mark":{"type":"line","strokeWidth":1,"color":"#222"},"encoding":{"detail":{"field":"s"}}},
{"data":{"name":"d"},"transform":[{"filter":"datum.s==99"}],"mark":{"type":"line","strokeWidth":2.8,"color":"#d6213c"}},
{"data":{"values":[{"t":-288,"v":2954,"lab":"D"}]},"mark":{"type":"text","fontWeight":"bold","fontSize":16,"color":"#111"},"encoding":{"text":{"field":"lab"}}},
{"data":{"values":[{"t":66.5,"v":2492,"lab":"↓"}]},"mark":{"type":"text","fontSize":20,"color":"#d6213c"},"encoding":{"text":{"field":"lab"}}}]}
],"spacing":163,"bounds":"flush"}
]},
{"hconcat":[
{"width":266.5,"height":134.6,"title":{"text":"Peak Amplitude","offset":-12},"encoding":{"x":{"field":"pos","type":"quantitative","title":null,"scale":{"domain":[0.5,6.5]},"axis":{"values":[1,2,3,4,5,6],"labelExpr":"['Cont','Base','Glut','Cont','Base','Glut'][datum.value-1]","ticks":false,"domainColor":"#999","labelFontSize":11.5,"labelPadding":4}},"y":{"field":"v","type":"quantitative","title":"[Ca²⁺] nM","scale":{"domain":[0,2500]},"axis":{"format":"d","values":[0,500,1000,1500,2000,2500],"domainColor":"#999","tickColor":"#777","tickSize":5,"titlePadding":4}}},
"layer":[
{"data":{"name":"e"},"transform":[{"filter":"datum.h=='k'"}],"mark":{"type":"bar","size":33,"orient":"vertical","fill":"#000"},"encoding":{"y":{"field":"v","type":"quantitative","stack":null}}},
{"data":{"name":"e"},"transform":[{"filter":"datum.h=='c'"}],"mark":{"type":"bar","size":33,"orient":"vertical","stroke":"#000","strokeWidth":1,"fill":{"gradient":"linear","x1":0,"y1":1,"x2":1.2,"y2":0.6,"stops":[{"offset":0,"color":"#000"},{"offset":0.083,"color":"#000"},{"offset":0.083,"color":"#fff"},{"offset":0.167,"color":"#fff"},{"offset":0.167,"color":"#000"},{"offset":0.25,"color":"#000"},{"offset":0.25,"color":"#fff"},{"offset":0.333,"color":"#fff"},{"offset":0.333,"color":"#000"},{"offset":0.417,"color":"#000"},{"offset":0.417,"color":"#fff"},{"offset":0.5,"color":"#fff"},{"offset":0.5,"color":"#000"},{"offset":0.583,"color":"#000"},{"offset":0.583,"color":"#fff"},{"offset":0.667,"color":"#fff"},{"offset":0.667,"color":"#000"},{"offset":0.75,"color":"#000"},{"offset":0.75,"color":"#fff"},{"offset":0.833,"color":"#fff"},{"offset":0.833,"color":"#000"},{"offset":0.917,"color":"#000"},{"offset":0.917,"color":"#fff"},{"offset":1,"color":"#fff"}]}},"encoding":{"y":{"field":"v","type":"quantitative","stack":null}}},
{"data":{"name":"e"},"transform":[{"filter":"datum.h=='b'"}],"mark":{"type":"bar","size":33,"orient":"vertical","stroke":"#000","strokeWidth":1,"fill":{"gradient":"linear","x1":0,"y1":1,"x2":1.195,"y2":0.366,"stops":[{"offset":0,"color":"#000"},{"offset":0.071,"color":"#000"},{"offset":0.071,"color":"#fff"},{"offset":0.143,"color":"#fff"},{"offset":0.143,"color":"#000"},{"offset":0.214,"color":"#000"},{"offset":0.214,"color":"#fff"},{"offset":0.286,"color":"#fff"},{"offset":0.286,"color":"#000"},{"offset":0.357,"color":"#000"},{"offset":0.357,"color":"#fff"},{"offset":0.429,"color":"#fff"},{"offset":0.429,"color":"#000"},{"offset":0.5,"color":"#000"},{"offset":0.5,"color":"#fff"},{"offset":0.571,"color":"#fff"},{"offset":0.571,"color":"#000"},{"offset":0.643,"color":"#000"},{"offset":0.643,"color":"#fff"},{"offset":0.714,"color":"#fff"},{"offset":0.714,"color":"#000"},{"offset":0.786,"color":"#000"},{"offset":0.786,"color":"#fff"},{"offset":0.857,"color":"#fff"},{"offset":0.857,"color":"#000"},{"offset":0.929,"color":"#000"},{"offset":0.929,"color":"#fff"},{"offset":1,"color":"#fff"}]}},"encoding":{"y":{"field":"v","type":"quantitative","stack":null}}},
{"data":{"name":"e"},"transform":[{"filter":"datum.h=='g'"}],"mark":{"type":"bar","size":33,"orient":"vertical","stroke":"#000","strokeWidth":1,"fill":{"gradient":"linear","x1":0,"y1":1,"x2":0.448,"y2":-0.205,"stops":[{"offset":0,"color":"#000"},{"offset":0.029,"color":"#000"},{"offset":0.029,"color":"#fff"},{"offset":0.059,"color":"#fff"},{"offset":0.059,"color":"#000"},{"offset":0.088,"color":"#000"},{"offset":0.088,"color":"#fff"},{"offset":0.118,"color":"#fff"},{"offset":0.118,"color":"#000"},{"offset":0.147,"color":"#000"},{"offset":0.147,"color":"#fff"},{"offset":0.176,"color":"#fff"},{"offset":0.176,"color":"#000"},{"offset":0.206,"color":"#000"},{"offset":0.206,"color":"#fff"},{"offset":0.235,"color":"#fff"},{"offset":0.235,"color":"#000"},{"offset":0.265,"color":"#000"},{"offset":0.265,"color":"#fff"},{"offset":0.294,"color":"#fff"},{"offset":0.294,"color":"#000"},{"offset":0.324,"color":"#000"},{"offset":0.324,"color":"#fff"},{"offset":0.353,"color":"#fff"},{"offset":0.353,"color":"#000"},{"offset":0.382,"color":"#000"},{"offset":0.382,"color":"#fff"},{"offset":0.412,"color":"#fff"},{"offset":0.412,"color":"#000"},{"offset":0.441,"color":"#000"},{"offset":0.441,"color":"#fff"},{"offset":0.471,"color":"#fff"},{"offset":0.471,"color":"#000"},{"offset":0.5,"color":"#000"},{"offset":0.5,"color":"#fff"},{"offset":0.529,"color":"#fff"},{"offset":0.529,"color":"#000"},{"offset":0.559,"color":"#000"},{"offset":0.559,"color":"#fff"},{"offset":0.588,"color":"#fff"},{"offset":0.588,"color":"#000"},{"offset":0.618,"color":"#000"},{"offset":0.618,"color":"#fff"},{"offset":0.647,"color":"#fff"},{"offset":0.647,"color":"#000"},{"offset":0.676,"color":"#000"},{"offset":0.676,"color":"#fff"},{"offset":0.706,"color":"#fff"},{"offset":0.706,"color":"#000"},{"offset":0.735,"color":"#000"},{"offset":0.735,"color":"#fff"},{"offset":0.765,"color":"#fff"},{"offset":0.765,"color":"#000"},{"offset":0.794,"color":"#000"},{"offset":0.794,"color":"#fff"},{"offset":0.824,"color":"#fff"},{"offset":0.824,"color":"#000"},{"offset":0.853,"color":"#000"},{"offset":0.853,"color":"#fff"},{"offset":0.882,"color":"#fff"},{"offset":0.882,"color":"#000"},{"offset":0.912,"color":"#000"},{"offset":0.912,"color":"#fff"},{"offset":0.941,"color":"#fff"},{"offset":0.941,"color":"#000"},{"offset":0.971,"color":"#000"},{"offset":0.971,"color":"#fff"},{"offset":1,"color":"#fff"}]}},"encoding":{"y":{"field":"v","type":"quantitative","stack":null}}},
{"data":{"name":"e"},"mark":{"type":"rule","color":"#222","strokeWidth":1},"encoding":{"y":{"field":"lo","type":"quantitative"},"y2":{"field":"hi"}}},
{"data":{"name":"e"},"mark":{"type":"tick","orient":"horizontal","size":11,"thickness":1,"color":"#222"},"encoding":{"y":{"field":"hi","type":"quantitative"}}},
{"data":{"name":"el"},"mark":{"type":"line","color":"#333","strokeWidth":1},"encoding":{"detail":{"field":"b"},"order":{"field":"i"}}},
{"data":{"values":[{"pos":1.77,"v":1960,"lab":"**"},{"pos":4.83,"v":1960,"lab":"*"},{"pos":4.84,"v":1300,"lab":"**"}]},"mark":{"type":"text","fontSize":15,"color":"#222","baseline":"top","dy":-9},"encoding":{"text":{"field":"lab"}}},
{"data":{"values":[{"pos":5.53,"lo":2438,"hi":2667}]},"mark":{"type":"bar","size":12.7,"orient":"vertical","stroke":"#000","strokeWidth":1,"fill":{"gradient":"linear","x1":0,"y1":1,"x2":1,"y2":0,"stops":[{"offset":0,"color":"#000"},{"offset":0.125,"color":"#000"},{"offset":0.125,"color":"#fff"},{"offset":0.25,"color":"#fff"},{"offset":0.25,"color":"#000"},{"offset":0.375,"color":"#000"},{"offset":0.375,"color":"#fff"},{"offset":0.5,"color":"#fff"},{"offset":0.5,"color":"#000"},{"offset":0.625,"color":"#000"},{"offset":0.625,"color":"#fff"},{"offset":0.75,"color":"#fff"},{"offset":0.75,"color":"#000"},{"offset":0.875,"color":"#000"},{"offset":0.875,"color":"#fff"},{"offset":1,"color":"#fff"}]}},"encoding":{"y":{"field":"lo","type":"quantitative"},"y2":{"field":"hi"}}},
{"data":{"values":[{"pos":5.53,"lo":2153,"hi":2376}]},"mark":{"type":"bar","size":12.7,"orient":"vertical","fill":"#111"},"encoding":{"y":{"field":"lo","type":"quantitative"},"y2":{"field":"hi"}}},
{"data":{"values":[{"pos":5.75,"v":2550,"lab":"15 DIV"},{"pos":5.78,"v":2265,"lab":"120 DIV"}]},"mark":{"type":"text","fontSize":11,"color":"#222","align":"left"},"encoding":{"text":{"field":"lab"}}},
{"data":{"values":[{"pos":-0.64,"v":2908,"lab":"E"}]},"mark":{"type":"text","fontWeight":"bold","fontSize":16,"color":"#111"},"encoding":{"text":{"field":"lab"}}}]},
{"width":261.8,"height":134.6,"title":{"text":"Curve Area/Second","dx":5,"offset":-12},"encoding":{"x":{"field":"pos","type":"quantitative","title":null,"scale":{"domain":[0.5,6.5]},"axis":{"values":[1,2,3,4,5,6],"labelExpr":"['Cont','Base','Glut','Cont','Base','Glut'][datum.value-1]","ticks":false,"domainColor":"#999","labelFontSize":11.5,"labelPadding":4}},"y":{"field":"v","type":"quantitative","title":"[Ca²⁺] nM/sec","scale":{"domain":[0,2500]},"axis":{"format":"d","values":[0,500,1000,1500,2000,2500],"domainColor":"#999","tickColor":"#777","tickSize":5,"titlePadding":4}}},
"layer":[
{"data":{"name":"f"},"transform":[{"filter":"datum.h=='k'"}],"mark":{"type":"bar","size":33,"orient":"vertical","fill":"#000"},"encoding":{"y":{"field":"v","type":"quantitative","stack":null}}},
{"data":{"name":"f"},"transform":[{"filter":"datum.h=='c'"}],"mark":{"type":"bar","size":33,"orient":"vertical","stroke":"#000","strokeWidth":1,"fill":{"gradient":"linear","x1":0,"y1":0,"x2":1.188,"y2":0.335,"stops":[{"offset":0,"color":"#000"},{"offset":0.083,"color":"#000"},{"offset":0.083,"color":"#fff"},{"offset":0.167,"color":"#fff"},{"offset":0.167,"color":"#000"},{"offset":0.25,"color":"#000"},{"offset":0.25,"color":"#fff"},{"offset":0.333,"color":"#fff"},{"offset":0.333,"color":"#000"},{"offset":0.417,"color":"#000"},{"offset":0.417,"color":"#fff"},{"offset":0.5,"color":"#fff"},{"offset":0.5,"color":"#000"},{"offset":0.583,"color":"#000"},{"offset":0.583,"color":"#fff"},{"offset":0.667,"color":"#fff"},{"offset":0.667,"color":"#000"},{"offset":0.75,"color":"#000"},{"offset":0.75,"color":"#fff"},{"offset":0.833,"color":"#fff"},{"offset":0.833,"color":"#000"},{"offset":0.917,"color":"#000"},{"offset":0.917,"color":"#fff"},{"offset":1,"color":"#fff"}]}},"encoding":{"y":{"field":"v","type":"quantitative","stack":null}}},
{"data":{"name":"f"},"transform":[{"filter":"datum.h=='g'"}],"mark":{"type":"bar","size":33,"orient":"vertical","stroke":"#000","strokeWidth":1,"fill":{"gradient":"linear","x1":0,"y1":0,"x2":0.629,"y2":1.195,"stops":[{"offset":0,"color":"#000"},{"offset":0.036,"color":"#000"},{"offset":0.036,"color":"#fff"},{"offset":0.071,"color":"#fff"},{"offset":0.071,"color":"#000"},{"offset":0.107,"color":"#000"},{"offset":0.107,"color":"#fff"},{"offset":0.143,"color":"#fff"},{"offset":0.143,"color":"#000"},{"offset":0.179,"color":"#000"},{"offset":0.179,"color":"#fff"},{"offset":0.214,"color":"#fff"},{"offset":0.214,"color":"#000"},{"offset":0.25,"color":"#000"},{"offset":0.25,"color":"#fff"},{"offset":0.286,"color":"#fff"},{"offset":0.286,"color":"#000"},{"offset":0.321,"color":"#000"},{"offset":0.321,"color":"#fff"},{"offset":0.357,"color":"#fff"},{"offset":0.357,"color":"#000"},{"offset":0.393,"color":"#000"},{"offset":0.393,"color":"#fff"},{"offset":0.429,"color":"#fff"},{"offset":0.429,"color":"#000"},{"offset":0.464,"color":"#000"},{"offset":0.464,"color":"#fff"},{"offset":0.5,"color":"#fff"},{"offset":0.5,"color":"#000"},{"offset":0.536,"color":"#000"},{"offset":0.536,"color":"#fff"},{"offset":0.571,"color":"#fff"},{"offset":0.571,"color":"#000"},{"offset":0.607,"color":"#000"},{"offset":0.607,"color":"#fff"},{"offset":0.643,"color":"#fff"},{"offset":0.643,"color":"#000"},{"offset":0.679,"color":"#000"},{"offset":0.679,"color":"#fff"},{"offset":0.714,"color":"#fff"},{"offset":0.714,"color":"#000"},{"offset":0.75,"color":"#000"},{"offset":0.75,"color":"#fff"},{"offset":0.786,"color":"#fff"},{"offset":0.786,"color":"#000"},{"offset":0.821,"color":"#000"},{"offset":0.821,"color":"#fff"},{"offset":0.857,"color":"#fff"},{"offset":0.857,"color":"#000"},{"offset":0.893,"color":"#000"},{"offset":0.893,"color":"#fff"},{"offset":0.929,"color":"#fff"},{"offset":0.929,"color":"#000"},{"offset":0.964,"color":"#000"},{"offset":0.964,"color":"#fff"},{"offset":1,"color":"#fff"}]}},"encoding":{"y":{"field":"v","type":"quantitative","stack":null}}},
{"data":{"name":"f"},"mark":{"type":"rule","color":"#222","strokeWidth":1},"encoding":{"y":{"field":"lo","type":"quantitative"},"y2":{"field":"hi"}}},
{"data":{"name":"f"},"mark":{"type":"tick","orient":"horizontal","size":11,"thickness":1,"color":"#222"},"encoding":{"y":{"field":"hi","type":"quantitative"}}},
{"data":{"name":"fl"},"mark":{"type":"line","color":"#333","strokeWidth":1},"encoding":{"detail":{"field":"b"},"order":{"field":"i"}}},
{"data":{"values":[{"pos":1.79,"v":1480,"lab":"**"},{"pos":4.76,"v":1480,"lab":"*"},{"pos":4.74,"v":1090,"lab":"**"}]},"mark":{"type":"text","fontSize":15,"color":"#222","baseline":"top","dy":-8.5},"encoding":{"text":{"field":"lab"}}},
{"data":{"values":[{"pos":5.5,"lo":2419,"hi":2643}]},"mark":{"type":"bar","size":12.7,"orient":"vertical","stroke":"#000","strokeWidth":1,"fill":{"gradient":"linear","x1":0,"y1":0,"x2":1,"y2":1,"stops":[{"offset":0,"color":"#000"},{"offset":0.125,"color":"#000"},{"offset":0.125,"color":"#fff"},{"offset":0.25,"color":"#fff"},{"offset":0.25,"color":"#000"},{"offset":0.375,"color":"#000"},{"offset":0.375,"color":"#fff"},{"offset":0.5,"color":"#fff"},{"offset":0.5,"color":"#000"},{"offset":0.625,"color":"#000"},{"offset":0.625,"color":"#fff"},{"offset":0.75,"color":"#fff"},{"offset":0.75,"color":"#000"},{"offset":0.875,"color":"#000"},{"offset":0.875,"color":"#fff"},{"offset":1,"color":"#fff"}]}},"encoding":{"y":{"field":"lo","type":"quantitative"},"y2":{"field":"hi"}}},
{"data":{"values":[{"pos":5.5,"lo":2140,"hi":2363}]},"mark":{"type":"bar","size":12.7,"orient":"vertical","fill":"#111"},"encoding":{"y":{"field":"lo","type":"quantitative"},"y2":{"field":"hi"}}},
{"data":{"values":[{"pos":5.73,"v":2531,"lab":"15 DIV"},{"pos":5.76,"v":2264,"lab":"120 DIV"}]},"mark":{"type":"text","fontSize":11,"color":"#222","align":"left"},"encoding":{"text":{"field":"lab"}}},
{"data":{"values":[{"pos":-0.61,"v":2908,"lab":"F"}]},"mark":{"type":"text","fontWeight":"bold","fontSize":16,"color":"#111"},"encoding":{"text":{"field":"lab"}}}]}
],"spacing":86.7,"bounds":"flush"}
]}
